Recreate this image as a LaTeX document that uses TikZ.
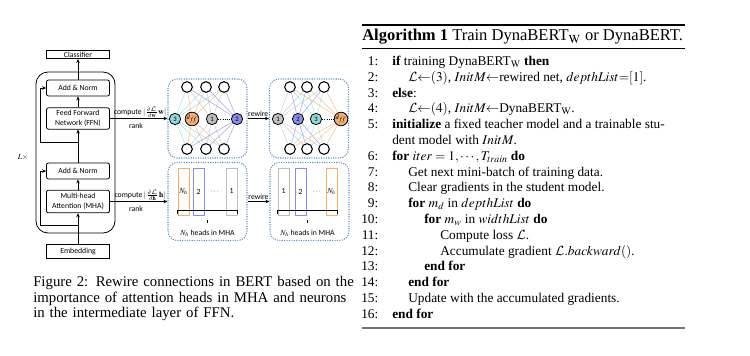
\documentclass[tikz,border=0pt]{standalone}
\usepackage{mathptmx}
\usepackage[no-math]{fontspec}
\setmainfont{Liberation Serif}
\newfontfamily\diagfont{Carlito}
\DeclareMathAlphabet{\mathcal}{OMS}{cmsy}{m}{n}
\usetikzlibrary{arrows.meta}

\definecolor{dotblue}{RGB}{100,140,190}
\definecolor{ntea}{RGB}{150,215,215}
\definecolor{nora}{RGB}{240,175,120}
\definecolor{ngry}{RGB}{190,190,190}
\definecolor{npur}{RGB}{140,140,230}

\tikzset{
  lay/.style={draw, line width=0.6pt, font=\diagfont\fontsize{5.8}{7}\selectfont, align=center, minimum width=47.25pt, inner sep=1pt},
  laybox/.style={lay, rounded corners=1.5pt},
  arr/.style={-{Stealth[length=3pt,width=2.6pt]}, line width=0.6pt},
  netbox/.style={draw=dotblue, densely dotted, line width=0.8pt, rounded corners=7pt, minimum width=59.25pt, minimum height=59.25pt},
  outer/.style={circle, draw, line width=0.8pt, minimum size=8pt, inner sep=0pt},
  inner/.style={circle, draw, line width=0.6pt, minimum size=8.5pt, inner sep=0pt, font=\diagfont\fontsize{5}{5}\selectfont},
  head/.style={draw=#1, line width=0.7pt, minimum width=8.25pt, minimum height=35.25pt, inner sep=0pt, font=\diagfont\fontsize{5.8}{7}\selectfont},
  lbl/.style={font=\diagfont\fontsize{5.8}{7}\selectfont, inner sep=1pt},
  wire/.style={line width=0.4pt, draw opacity=0.75},
  brc/.style={line width=0.7pt},
}

\begin{document}
\begin{tikzpicture}[x=0.75pt,y=0.75pt,yscale=-1,xscale=1]
\useasboundingbox (0,0) rectangle (750,355);

% BERT layer
\node[lay] (cls) at (78,54.5) {Classifier};
\node[draw, line width=0.6pt, rounded corners=9pt, minimum width=59.25pt, minimum height=120.75pt] (layer) at (75.5,152.5) {};
\node[laybox, minimum height=12pt] (an2) at (78,88) {Add \& Norm};
\node[laybox, minimum height=16pt] (ffn) at (78,118.5) {Feed Forward\\Network (FFN)};
\node[laybox, minimum height=12pt] (an1) at (78,171) {Add \& Norm};
\node[laybox, minimum height=17pt] (mha) at (78,201.5) {Multi-head\\Attention (MHA)};
\node[lay, minimum height=10pt] (emb) at (78,251.5) {Embedding};
\node[lbl] (lx) at (23,157) {$L\times$};

\draw[arr] (emb) -- (mha);
\draw[arr] (mha) -- (an1);
\draw[arr] (an1) -- (ffn);
\draw[arr] (ffn) -- (an2);
\draw[arr] (an2) -- (cls);

\coordinate (resL) at (40,0);
\coordinate (r2) at (78,142);
\coordinate (r1) at (78,225);
\draw[arr] (r2) -- (r2 -| resL) |- (an2.west);
\draw[arr] (r1) -- (r1 -| resL) |- (an1.west);

% dotted boxes
\node[netbox] (netA) at (207.5,118.5) {};
\node[netbox] (netB) at (309,118.5) {};
\node[netbox, minimum height=58.5pt] (netC) at (207.5,201.5) {};
\node[netbox, minimum height=58.5pt] (netD) at (309.5,201.5) {};

\draw[arr] (ffn) -- node[lbl, above, inner sep=0.5pt, xshift=1pt] {compute\,$|\frac{\partial\mathcal{L}}{\partial\mathbf{w}}\mathbf{w}|$} node[lbl, below=2pt, xshift=-2pt] {rank} (netA);
\draw[arr] (mha) -- node[lbl, above, inner sep=0.5pt, xshift=1pt] {compute\,$|\frac{\partial\mathcal{L}}{\partial\mathbf{h}}\mathbf{h}|$} node[lbl, below=2pt, xshift=-2pt] {rank} (netC);
\draw[arr] (netA) -- node[lbl, above] {rewire} (netB);
\draw[arr] (netC) -- node[lbl, above] {rewire} (netD);

% FFN neurons, before
\foreach \i/\x in {1/187,2/206,3/224} {
  \node[outer] (at\i) at (\x,87) {};
  \node[outer] (ab\i) at (\x,149) {};
}
\node[inner, fill=ntea] (am3) at (175,119) {3};
\node[inner, fill=nora] (amd) at (192,119) {$d_{f\!f}$};
\node[inner, fill=ngry] (am1) at (212,119) {1};
\node[inner, fill=npur] (am2) at (237,119) {2};
\foreach \m/\c in {am3/ntea,amd/nora,am1/ngry,am2/npur}
  \foreach \o in {at1,at2,at3,ab1,ab2,ab3}
    \draw[wire, \c] (\m) -- (\o);
\draw[densely dotted, line width=0.7pt] (am1) -- (am2);

% FFN neurons, after
\foreach \i/\x in {1/290,2/307,3/324} {
  \node[outer] (bt\i) at (\x,87) {};
  \node[outer] (bb\i) at (\x,149) {};
}
\node[inner, fill=ngry] (bm1) at (278,119) {1};
\node[inner, fill=npur] (bm2) at (298,119) {2};
\node[inner, fill=ntea] (bm3) at (316,119) {3};
\node[inner, fill=nora] (bmd) at (341,119) {$d_{f\!f}$};
\foreach \m/\c in {bm1/ngry,bm2/npur,bm3/ntea,bmd/nora}
  \foreach \o in {bt1,bt2,bt3,bb1,bb2,bb3}
    \draw[wire, \c] (\m) -- (\o);
\draw[densely dotted, line width=0.7pt] (bm3) -- (bmd);

% heads, before
\node[head=nora] (hA-nh) at (183.5,191.5) {$N_h$};
\node[head=npur] (hA-2) at (198.5,191.5) {2};
\node[lbl] (hA-dots) at (215,191.5) {$\cdots$};
\node[head=ngry] (hA-1) at (231.5,191.5) {1};
\draw[brc] ([yshift=-1pt]hA-nh.south west) |- ([yshift=-3.75pt]hA-1.south east) -- ([yshift=-1pt]hA-1.south east);
\coordinate (bA) at (207.5,220);
\draw[brc] (bA) -- ++(0,3);
\node[lbl] (hlA) at (207.5,233) {$N_h$ heads in MHA};

% heads, after
\node[head=ngry] (hB-1) at (283.5,191.5) {1};
\node[head=npur] (hB-2) at (300.5,191.5) {2};
\node[lbl] (hB-dots) at (317,191.5) {$\cdots$};
\node[head=nora] (hB-nh) at (331.5,191.5) {$N_h$};
\draw[brc] ([yshift=-1pt]hB-1.south west) |- ([yshift=-3.75pt]hB-nh.south east) -- ([yshift=-1pt]hB-nh.south east);
\coordinate (bB) at (307.5,220);
\draw[brc] (bB) -- ++(0,3);
\node[lbl] (hlB) at (307.5,233) {$N_h$ heads in MHA};

% figure caption
\node[anchor=north west, inner sep=0pt, text width=245pt, align=left, font=\fontsize{11.1}{11.7}\selectfont] (fig) at (33,276) {Figure 2: Rewire connections in BERT based on the\\importance of attention heads in MHA and neurons\\in the intermediate layer of FFN.};

% algorithm
\draw[line width=0.8pt] (362,25) -- (685,25);
\node[anchor=west, inner sep=0pt, font=\fontsize{12.4}{14}\selectfont] (algcap) at (362,37) {\textbf{Algorithm 1} Train DynaBERT$_\mathrm{W}$ or DynaBERT.};
\draw[line width=0.5pt] (362,48) -- (685,48);
\node[anchor=base west, inner sep=0pt, font=\fontsize{10}{11.85}\selectfont] (algbody) at (361,65.5) {\begin{tabular}[t]{@{}r@{\hspace{10.5pt}}l@{}}
1: & \textbf{if} training DynaBERT$_\mathrm{W}$ \textbf{then}\\
2: & \hspace*{12pt}$\mathcal{L}{\leftarrow}(3)$, $InitM{\leftarrow}$rewired net, $depthList{=}[1]$.\\
3: & \textbf{else}:\\
4: & \hspace*{12pt}$\mathcal{L}{\leftarrow}(4)$, $InitM{\leftarrow}$DynaBERT$_\mathrm{W}$.\\
5: & \textbf{initialize} a fixed teacher model and a trainable stu-\\
   & dent model with $InitM$.\\
6: & \textbf{for} $iter=1,\cdots,T_{train}$ \textbf{do}\\
7: & \hspace*{12pt}Get next mini-batch of training data.\\
8: & \hspace*{12pt}Clear gradients in the student model.\\
9: & \hspace*{12pt}\textbf{for} $m_d$ in $depthList$ \textbf{do}\\
10: & \hspace*{24pt}\textbf{for} $m_w$ in $widthList$ \textbf{do}\\
11: & \hspace*{36pt}Compute loss $\mathcal{L}$.\\
12: & \hspace*{36pt}Accumulate gradient $\mathcal{L}.backward()$.\\
13: & \hspace*{24pt}\textbf{end for}\\
14: & \hspace*{12pt}\textbf{end for}\\
15: & \hspace*{12pt}Update with the accumulated gradients.\\
16: & \textbf{end for}
\end{tabular}};
\draw[line width=0.9pt, black!55] (362,328) -- (685,328);
\end{tikzpicture}
\end{document}
